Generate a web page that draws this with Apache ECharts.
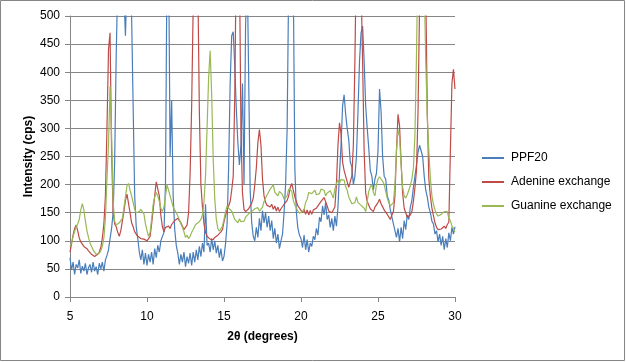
<!DOCTYPE html>
<html><head><meta charset="utf-8">
<script src="https://cdn.jsdelivr.net/npm/echarts@6/dist/echarts.min.js"></script>
<style>html,body{margin:0;padding:0;background:#fff}#c{width:626px;height:362px}</style>
</head><body><div id="c"></div>
<script>
const twoTheta = [
5.0,5.1,5.2,5.3,5.4,5.5,5.6,5.7,5.8,5.9,
6.0,6.1,6.2,6.3,6.4,6.5,6.6,6.7,6.8,6.9,
7.0,7.1,7.2,7.3,7.4,7.5,7.6,7.7,7.8,7.9,
8.0,8.1,8.2,8.3,8.4,8.5,8.6,8.7,8.8,8.9,
9.0,9.1,9.2,9.3,9.4,9.5,9.6,9.7,9.8,9.9,
10.0,10.1,10.2,10.3,10.4,10.5,10.6,10.7,10.8,10.9,
11.0,11.1,11.2,11.3,11.4,11.5,11.6,11.7,11.8,11.9,
12.0,12.1,12.2,12.3,12.4,12.5,12.6,12.7,12.8,12.9,
13.0,13.1,13.2,13.3,13.4,13.5,13.6,13.7,13.8,13.9,
14.0,14.1,14.2,14.3,14.4,14.5,14.6,14.7,14.8,14.9,
15.0,15.1,15.2,15.3,15.4,15.5,15.6,15.7,15.8,15.9,
16.0,16.1,16.2,16.3,16.4,16.5,16.6,16.7,16.8,16.9,
17.0,17.1,17.2,17.3,17.4,17.5,17.6,17.7,17.8,17.9,
18.0,18.1,18.2,18.3,18.4,18.5,18.6,18.7,18.8,18.9,
19.0,19.1,19.2,19.3,19.4,19.5,19.6,19.7,19.8,19.9,
20.0,20.1,20.2,20.3,20.4,20.5,20.6,20.7,20.8,20.9,
21.0,21.1,21.2,21.3,21.4,21.5,21.6,21.7,21.8,21.9,
22.0,22.1,22.2,22.3,22.4,22.5,22.6,22.7,22.8,22.9,
23.0,23.1,23.2,23.3,23.4,23.5,23.6,23.7,23.8,23.9,
24.0,24.1,24.2,24.3,24.4,24.5,24.6,24.7,24.8,24.9,
25.0,25.1,25.2,25.3,25.4,25.5,25.6,25.7,25.8,25.9,
26.0,26.1,26.2,26.3,26.4,26.5,26.6,26.7,26.8,26.9,
27.0,27.1,27.2,27.3,27.4,27.5,27.6,27.7,27.8,27.9,
28.0,28.1,28.2,28.3,28.4,28.5,28.6,28.7,28.8,28.9,
29.0,29.1,29.2,29.3,29.4,29.5,29.6,29.7,29.8,29.9,
30.0];

const ppf20 = [
70,48,62,40,58,52,66,42,55,46,
60,40,52,58,44,62,46,54,40,60,
50,62,46,66,74,84,104,122,150,240,
430,560,620,640,600,540,465,560,600,570,
500,340,180,125,104,80,66,84,58,78,
56,76,62,80,58,86,70,92,80,100,
98,115,200,600,620,250,350,180,120,92,
78,58,76,62,80,54,72,60,78,56,
80,62,84,66,90,72,96,80,165,92,
96,80,104,84,100,78,92,70,86,64,
72,95,130,230,380,465,472,410,335,275,
235,270,380,200,480,600,600,190,132,108,
100,124,106,140,118,154,132,150,124,144,
118,136,104,122,96,112,86,100,112,150,
200,300,560,650,640,560,230,150,122,110,
104,88,110,84,102,80,96,90,108,102,
122,110,142,134,162,146,168,138,146,124,
140,118,144,126,160,220,270,340,360,325,
300,280,240,232,200,215,250,330,420,470,
482,420,340,300,265,225,215,190,210,220,
260,370,330,250,215,210,180,172,155,154,
130,128,106,122,98,124,104,136,120,146,
138,160,172,195,215,235,258,270,268,250,
215,190,178,160,150,135,130,112,118,98,
112,92,108,84,104,88,114,100,124,112,
125];

const adenineExchange = [
80,95,110,122,128,118,105,98,95,90,
88,86,82,80,76,73,72,74,76,80,
88,105,130,180,300,440,470,260,150,130,
125,115,108,118,135,152,172,183,180,150,
132,125,116,115,108,110,104,106,103,105,
100,99,108,130,155,180,205,205,180,145,
125,116,124,121,126,122,129,127,136,133,
140,138,132,126,120,118,128,150,220,340,
520,650,650,560,330,200,160,130,115,108,
106,103,106,102,106,104,110,107,116,120,
134,145,155,162,170,190,215,360,620,680,
600,300,185,156,152,149,157,155,167,176,
200,230,275,298,270,210,180,168,163,165,
160,165,156,162,153,160,152,157,158,165,
165,172,180,195,202,190,178,170,162,158,
155,150,156,147,155,146,154,147,155,153,
158,162,161,170,169,177,174,162,153,155,
150,152,160,200,270,310,290,240,225,215,
205,195,198,215,270,420,620,720,680,560,
420,260,185,170,168,157,154,152,160,159,
168,174,166,166,155,154,147,148,138,146,
152,180,260,325,305,240,185,158,150,142,
140,146,152,170,195,225,330,520,700,800,
760,550,330,210,180,158,145,132,124,120,
117,121,119,126,122,129,133,260,380,405,
370];

const guanineExchange = [
90,96,108,117,124,130,138,155,166,155,
135,118,106,96,90,84,80,76,74,78,
82,90,105,140,210,270,375,290,170,135,
128,130,132,134,140,158,178,198,202,190,
180,168,156,150,150,152,156,157,148,130,
118,108,115,138,165,178,186,180,170,158,
152,160,180,200,198,180,170,160,155,150,
144,138,130,124,116,106,110,104,108,115,
120,126,130,133,134,138,146,170,215,300,
390,438,360,245,175,138,122,117,120,126,
138,152,162,158,160,153,151,138,137,132,
139,134,136,135,142,141,148,146,152,151,
157,154,159,153,155,160,170,172,182,184,
192,194,200,186,186,180,188,186,182,174,
176,180,192,194,188,172,164,158,153,149,
146,152,156,168,174,186,184,184,184,190,
182,184,184,192,194,190,180,185,183,189,
186,176,192,202,208,203,209,206,208,196,
190,178,176,166,166,168,178,168,168,163,
163,158,152,170,188,196,200,186,180,200,
210,214,212,206,200,188,176,168,162,160,
168,200,260,298,285,235,195,180,176,182,
190,198,210,230,290,430,620,760,800,700,
560,420,320,260,212,180,165,155,148,144,
143,147,146,152,150,152,140,136,126,122,
116];

const seriesNames = ['PPF20', 'Adenine exchange', 'Guanine exchange'];
const seriesColors = ['#4A7EBB', '#BE4B48', '#98B954'];
const xTitle = '2θ (degrees)';
const yTitle = 'Intensity (cps)';

const pairs = ys => twoTheta.map((x, i) => [x, ys[i]]);
const axisGray = '#868686';
const font = 'Liberation Sans';

const chart = echarts.init(document.getElementById('c'), null, {renderer: 'canvas'});
chart.setOption({
  animation: false,
  backgroundColor: '#fff',
  textStyle: {fontFamily: font},
  grid: {left: 70, top: 16, width: 385, height: 281, containLabel: false},
  xAxis: {
    type: 'value', min: 5, max: 30, interval: 5,
    name: xTitle, nameLocation: 'middle', nameGap: 34, nameMoveOverlap: false,
    nameTextStyle: {fontFamily: font, fontWeight: 'bold', fontSize: 12, color: '#000'},
    axisLine: {show: true, lineStyle: {color: axisGray, width: 1}},
    axisTick: {show: true, length: 5, inside: false, lineStyle: {color: axisGray}},
    axisLabel: {show: true, color: '#000', fontSize: 12, margin: 14, fontFamily: font},
    splitLine: {show: false}
  },
  yAxis: {
    type: 'value', min: 0, max: 500, interval: 50,
    name: yTitle, nameLocation: 'middle', nameGap: 35, nameRotate: 90, nameMoveOverlap: false,
    nameTextStyle: {fontFamily: font, fontWeight: 'bold', fontSize: 12, color: '#000'},
    axisLine: {show: true, lineStyle: {color: axisGray, width: 1}},
    axisTick: {show: true, length: 5, inside: false, lineStyle: {color: axisGray}},
    axisLabel: {show: true, color: '#000', fontSize: 12, margin: 10, fontFamily: font},
    splitLine: {show: true, lineStyle: {color: axisGray, width: 1}}
  },
  legend: {
    orient: 'vertical', left: 482, top: 152, padding: 0,
    itemWidth: 22, itemHeight: 2, itemGap: 12, icon: 'rect',
    textStyle: {fontSize: 12, color: '#000', fontFamily: font, padding: [0, 0, 0, 2]},
    data: seriesNames
  },
  graphic: [{
    type: 'rect', silent: true,
    shape: {x: 0.5, y: 0.5, width: 624, height: 360},
    style: {fill: null, stroke: axisGray, lineWidth: 1}
  }],
  series: [ppf20, adenineExchange, guanineExchange].map((ys, k) => ({
    name: seriesNames[k], type: 'line', data: pairs(ys),
    showSymbol: false, symbol: 'none', clip: true,
    color: seriesColors[k],
    lineStyle: {color: seriesColors[k], width: 1.2},
    emphasis: {disabled: true}
  }))
});
</script></body></html>
